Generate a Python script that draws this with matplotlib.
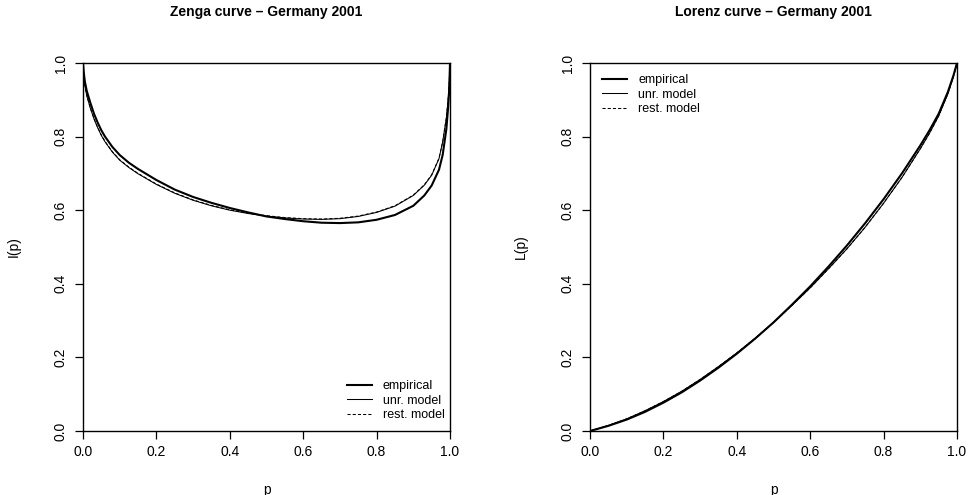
import matplotlib
matplotlib.use("Agg")
import matplotlib.pyplot as plt
import numpy as np

plt.rcParams['font.family'] = ['Liberation Sans', 'DejaVu Sans']

# Zenga curve values
p_zenga = [0.0, 0.002, 0.005, 0.01, 0.02, 0.03, 0.04, 0.05, 0.06, 0.08, 0.10, 0.125,
           0.15, 0.20, 0.25, 0.30, 0.35, 0.40, 0.45, 0.50, 0.55, 0.60, 0.65, 0.70,
           0.75, 0.80, 0.85, 0.90, 0.93, 0.95, 0.97, 0.98, 0.99, 0.995, 0.998, 1.0]
zenga_emp = [1.0, 0.975, 0.95, 0.925, 0.892, 0.862, 0.838, 0.817, 0.80, 0.772, 0.750, 0.729,
             0.712, 0.682, 0.656, 0.636, 0.620, 0.606, 0.594, 0.583, 0.576, 0.570, 0.566, 0.565,
             0.567, 0.574, 0.587, 0.612, 0.64, 0.667, 0.71, 0.75, 0.82, 0.88, 0.93, 1.0]
zenga_unr = [1.0, 0.97, 0.94, 0.912, 0.877, 0.848, 0.824, 0.803, 0.786, 0.758, 0.736, 0.716,
             0.699, 0.670, 0.646, 0.627, 0.612, 0.600, 0.591, 0.584, 0.579, 0.576, 0.575, 0.577,
             0.583, 0.594, 0.611, 0.64, 0.668, 0.695, 0.74, 0.785, 0.85, 0.90, 0.945, 1.0]
zenga_rest = [1.0, 0.971, 0.941, 0.913, 0.878, 0.849, 0.825, 0.804, 0.787, 0.759, 0.737, 0.717,
              0.700, 0.671, 0.647, 0.628, 0.613, 0.601, 0.592, 0.585, 0.580, 0.577, 0.576, 0.578,
              0.584, 0.595, 0.612, 0.641, 0.669, 0.696, 0.741, 0.786, 0.851, 0.901, 0.946, 1.0]

# Lorenz curve values
p_lorenz = [0.0, 0.05, 0.10, 0.15, 0.20, 0.25, 0.30, 0.35, 0.40, 0.45, 0.50, 0.55,
            0.60, 0.65, 0.70, 0.75, 0.80, 0.85, 0.90, 0.925, 0.95, 0.975, 0.99, 1.0]
lorenz_emp = [0.0, 0.014, 0.031, 0.052, 0.077, 0.105, 0.137, 0.172, 0.210, 0.251, 0.295, 0.343,
              0.393, 0.447, 0.504, 0.565, 0.630, 0.700, 0.776, 0.817, 0.862, 0.921, 0.965, 1.0]
lorenz_unr = [0.0, 0.015, 0.033, 0.055, 0.080, 0.108, 0.140, 0.175, 0.212, 0.252, 0.295, 0.341,
              0.389, 0.441, 0.495, 0.554, 0.619, 0.689, 0.767, 0.809, 0.856, 0.916, 0.962, 1.0]
lorenz_rest = [0.0, 0.015, 0.033, 0.055, 0.080, 0.108, 0.140, 0.175, 0.212, 0.252, 0.295, 0.341,
               0.389, 0.441, 0.495, 0.554, 0.619, 0.689, 0.767, 0.809, 0.856, 0.916, 0.962, 1.0]

ticks = [0.0, 0.2, 0.4, 0.6, 0.8, 1.0]
tick_labels = ["0.0", "0.2", "0.4", "0.6", "0.8", "1.0"]
legend_labels = ["empirical", "unr. model", "rest. model"]


def style_axes(ax, ylabel):
    ax.set_xlim(0, 1)
    ax.set_ylim(0, 1)
    ax.set_xticks(ticks)
    ax.set_xticklabels(tick_labels)
    ax.set_yticks(ticks)
    ax.set_yticklabels(tick_labels)
    plt.setp(ax.get_yticklabels(), rotation=90, va='center')
    ax.tick_params(direction='out', length=6, width=0.9, labelsize=10)
    ax.tick_params(axis='x', pad=4)
    ax.tick_params(axis='y', pad=5)
    for s in ax.spines.values():
        s.set_linewidth(1.0)
    ax.set_xlabel("p", fontsize=10, va='center')
    ax.xaxis.set_label_coords(0.5, -0.16)
    ax.set_ylabel(ylabel, fontsize=10, va='center')
    ax.yaxis.set_label_coords(-0.188, 0.5)


def add_legend(ax, loc, anchor):
    ax.legend(loc=loc, bbox_to_anchor=anchor, frameon=False, fontsize=9,
              handlelength=2.0, handletextpad=0.9, labelspacing=0.2,
              borderpad=0, borderaxespad=0)


fig = plt.figure(figsize=(9.7, 4.95), dpi=100)
ax1 = fig.add_axes([83 / 970, 64 / 495, 367 / 970, 368 / 495])
ax2 = fig.add_axes([590 / 970, 64 / 495, 367 / 970, 368 / 495])

ax1.plot(p_zenga, zenga_emp, color='black', lw=1.5, label=legend_labels[0])
ax1.plot(p_zenga, zenga_unr, color='black', lw=0.75, label=legend_labels[1])
ax1.plot(p_zenga, zenga_rest, color='black', lw=0.75, ls=(0, (3, 2)), label=legend_labels[2])
style_axes(ax1, "I(p)")
add_legend(ax1, 'lower right', (0.986, 0.027))

ax2.plot(p_lorenz, lorenz_emp, color='black', lw=1.5, label=legend_labels[0])
ax2.plot(p_lorenz, lorenz_unr, color='black', lw=0.75, label=legend_labels[1])
ax2.plot(p_lorenz, lorenz_rest, color='black', lw=0.75, ls=(0, (3, 2)), label=legend_labels[2])
style_axes(ax2, "L(p)")
add_legend(ax2, 'upper left', (0.033, 0.970))

fig.text((83 + 183) / 970, 1 - 12 / 495, "Zenga curve \u2013 Germany 2001",
         ha='center', va='center', fontsize=10, fontweight='bold')
fig.text((590 + 183) / 970, 1 - 12 / 495, "Lorenz curve \u2013 Germany 2001",
         ha='center', va='center', fontsize=10, fontweight='bold')

fig.savefig("out.png", dpi=100)
